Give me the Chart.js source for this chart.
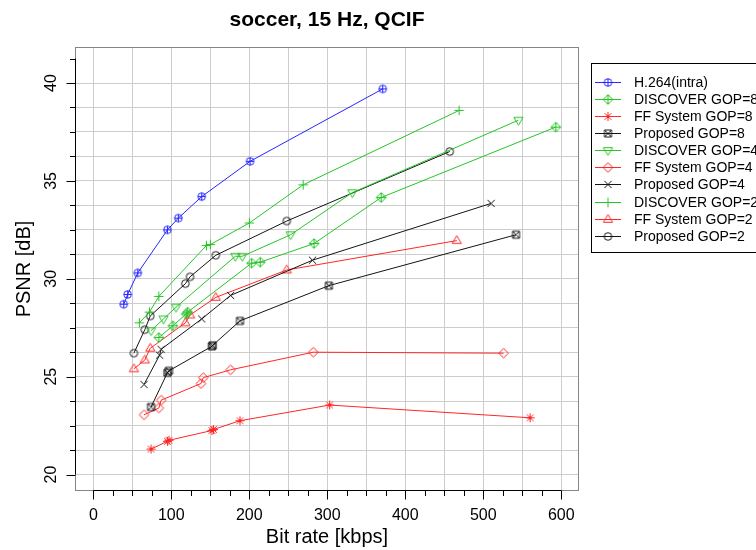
<!DOCTYPE html>
<html><head><meta charset="utf-8">
<script src="https://cdn.jsdelivr.net/npm/chart.js@4.4.0/dist/chart.umd.min.js"></script>
<style>html,body{margin:0;padding:0;background:#fff;overflow:hidden}canvas{display:block}</style>
</head><body>
<canvas id="c" width="756" height="550" style="width:756px;height:550px"></canvas>
<script>
// ---------- data ----------
const h264Rate  = [39, 44, 57, 95, 109, 139, 201, 371];
const h264Psnr  = [28.7, 29.2, 30.3, 32.5, 33.1, 34.2, 36.0, 39.7];

const disc8Rate = [84, 102, 119, 121, 203, 214, 283, 369, 593];
const disc8Psnr = [27.0, 27.6, 28.2, 28.3, 30.8, 30.85, 31.8, 34.15, 37.75];

const ff8Rate   = [74, 95, 97, 152, 154, 188, 303, 560];
const ff8Psnr   = [21.3, 21.7, 21.75, 22.25, 22.3, 22.75, 23.55, 22.9];

const prop8Rate = [74, 95, 97, 152, 153, 188, 302, 542];
const prop8Psnr = [23.45, 25.2, 25.3, 26.55, 26.6, 27.85, 29.65, 32.25];

const disc4Rate = [74, 90, 106, 182, 191, 253, 332, 545];
const disc4Psnr = [27.35, 27.95, 28.55, 31.15, 31.15, 32.25, 34.4, 38.1];

const ff4Rate   = [65, 84, 87, 138, 141, 176, 282, 526];
const ff4Psnr   = [23.05, 23.4, 23.8, 24.65, 24.95, 25.35, 26.25, 26.2];

const prop4Rate = [65, 85, 87, 139, 176, 281, 510];
const prop4Psnr = [24.6, 26.1, 26.4, 27.95, 29.15, 30.95, 33.85];

const disc2Rate = [59, 72, 84, 145, 150, 200, 269, 469];
const disc2Psnr = [27.75, 28.3, 29.1, 31.7, 31.75, 32.85, 34.8, 38.6];

const ff2Rate   = [52, 66, 73, 118, 124, 157, 248, 466];
const ff2Psnr   = [25.4, 25.85, 26.45, 27.75, 28.15, 29.05, 30.45, 31.95];

const prop2Rate = [52, 66, 73, 118, 124, 157, 248, 457];
const prop2Psnr = [26.2, 27.4, 28.1, 29.75, 30.1, 31.2, 32.95, 36.5];

const seriesLabels = ['H.264(intra)', 'DISCOVER GOP=8', 'FF System GOP=8', 'Proposed GOP=8',
  'DISCOVER GOP=4', 'FF System GOP=4', 'Proposed GOP=4', 'DISCOVER GOP=2', 'FF System GOP=2', 'Proposed GOP=2'];
const seriesRates = [h264Rate, disc8Rate, ff8Rate, prop8Rate, disc4Rate, ff4Rate, prop4Rate, disc2Rate, ff2Rate, prop2Rate];
const seriesPsnrs = [h264Psnr, disc8Psnr, ff8Psnr, prop8Psnr, disc4Psnr, ff4Psnr, prop4Psnr, disc2Psnr, ff2Psnr, prop2Psnr];

const xTickLabels = [0, 100, 200, 300, 400, 500, 600];
const yTickLabels = [20, 25, 30, 35, 40];
const chartTitle = 'soccer, 15 Hz, QCIF';
const xTitle = 'Bit rate [kbps]';
const yTitle = 'PSNR [dB]';

// ---------- styles ----------
const BLUE = '#2626ff', GREEN = '#26c426', RED = '#ff2626', BLACK = '#141414';
const seriesColors = [BLUE, GREEN, RED, BLACK, GREEN, RED, BLACK, GREEN, RED, BLACK];
const seriesMarkers = ['circlePlus', 'diamondPlus', 'star', 'squareX', 'triDown', 'diamond', 'x', 'plus', 'tri', 'circle'];
const FONT = "'Liberation Sans', Arial, Helvetica, sans-serif";

function makeMarker(kind, color) {
  const s = 15, c = 7.5;
  const cv = document.createElement('canvas'); cv.width = s; cv.height = s;
  const g = cv.getContext('2d');
  g.strokeStyle = color; g.lineWidth = 1;
  g.beginPath();
  const line = (x1, y1, x2, y2) => { g.moveTo(x1, y1); g.lineTo(x2, y2); };
  switch (kind) {
    case 'circlePlus': g.arc(c, c, 3.8, 0, 2 * Math.PI); line(c - 3.8, c, c + 3.8, c); line(c, c - 3.8, c, c + 3.8); break;
    case 'diamondPlus': g.moveTo(c, c - 4.8); g.lineTo(c + 4.8, c); g.lineTo(c, c + 4.8); g.lineTo(c - 4.8, c); g.closePath();
      line(c - 4.8, c, c + 4.8, c); line(c, c - 4.8, c, c + 4.8); break;
    case 'star': line(c - 4.5, c, c + 4.5, c); line(c, c - 4.5, c, c + 4.5);
      line(c - 3.3, c - 3.3, c + 3.3, c + 3.3); line(c - 3.3, c + 3.3, c + 3.3, c - 3.3); break;
    case 'squareX': g.rect(c - 3.5, c - 3.5, 7, 7); line(c - 3.5, c - 3.5, c + 3.5, c + 3.5); line(c - 3.5, c + 3.5, c + 3.5, c - 3.5); break;
    case 'triDown': g.moveTo(c - 4.6, c - 2.8); g.lineTo(c + 4.6, c - 2.8); g.lineTo(c, c + 4.9); g.closePath(); break;
    case 'tri': g.moveTo(c - 4.6, c + 2.8); g.lineTo(c + 4.6, c + 2.8); g.lineTo(c, c - 4.9); g.closePath(); break;
    case 'diamond': g.moveTo(c, c - 4.8); g.lineTo(c + 4.8, c); g.lineTo(c, c + 4.8); g.lineTo(c - 4.8, c); g.closePath(); break;
    case 'x': line(c - 3.6, c - 3.6, c + 3.6, c + 3.6); line(c - 3.6, c + 3.6, c + 3.6, c - 3.6); break;
    case 'plus': line(c - 4.8, c, c + 4.8, c); line(c, c - 4.8, c, c + 4.8); break;
    case 'circle': g.arc(c, c, 3.8, 0, 2 * Math.PI); break;
  }
  g.stroke();
  return cv;
}
const markerImages = seriesMarkers.map((m, i) => makeMarker(m, seriesColors[i]));

const datasets = seriesLabels.map((lab, i) => ({
  label: lab,
  data: seriesRates[i].map((r, j) => ({ x: r, y: seriesPsnrs[i][j] })),
  showLine: true,
  borderColor: seriesColors[i],
  backgroundColor: seriesColors[i],
  borderWidth: 1,
  tension: 0,
  fill: false,
  pointStyle: markerImages[i],
  pointRadius: 4,
  pointHoverRadius: 4
}));

const X_MINOR = 25, X_GRID = 50, Y_MINOR = 1.25;

const framePlugin = {
  id: 'frame',
  afterDraw(chart) {
    const { ctx, chartArea: a, scales: { x, y } } = chart;
    ctx.save();
    // plot box
    ctx.strokeStyle = '#858585'; ctx.lineWidth = 1;
    ctx.strokeRect(Math.round(a.left) + 0.5, Math.round(a.top) + 0.5,
      Math.round(a.right - a.left) - 1, Math.round(a.bottom - a.top) - 1);
    // axes with ticks
    ctx.strokeStyle = '#000';
    const by = Math.round(a.bottom) - 0.5, lx = Math.round(a.left) + 0.5;
    ctx.beginPath();
    const xt = x.ticks.map(t => t.value);
    ctx.moveTo(x.getPixelForValue(xt[0]), by); ctx.lineTo(x.getPixelForValue(xt[xt.length - 1]), by);
    xt.forEach(v => {
      const px = Math.round(x.getPixelForValue(v)) + 0.5;
      const len = (v % 100 === 0) ? 9 : 5.5;
      ctx.moveTo(px, by); ctx.lineTo(px, by + len);
    });
    const yt = y.ticks.map(t => t.value);
    ctx.moveTo(lx, y.getPixelForValue(yt[0])); ctx.lineTo(lx, y.getPixelForValue(yt[yt.length - 1]));
    yt.forEach(v => {
      const py = Math.round(y.getPixelForValue(v)) + 0.5;
      const len = (v % 5 === 0) ? 9 : 5.5;
      ctx.moveTo(lx, py); ctx.lineTo(lx - len, py);
    });
    ctx.stroke();
    // rotated y tick labels
    ctx.fillStyle = '#000';
    ctx.font = '16px ' + FONT;
    ctx.textAlign = 'center'; ctx.textBaseline = 'middle';
    yTickLabels.forEach(v => {
      ctx.save();
      ctx.translate(52, y.getPixelForValue(v));
      ctx.rotate(-Math.PI / 2);
      ctx.fillText(String(v), 0, 0);
      ctx.restore();
    });
    // legend
    const lx0 = 591, ly0 = 63, rowH = 17.13, firstY = 81.7;
    ctx.strokeStyle = '#000'; ctx.lineWidth = 1;
    ctx.strokeRect(lx0 + 0.5, ly0 + 0.5, 300, 189);
    ctx.font = '14px ' + FONT;
    ctx.textAlign = 'left'; ctx.textBaseline = 'middle';
    chart.data.datasets.forEach((ds, i) => {
      const cy = Math.round(firstY + i * rowH) + 0.5;
      ctx.strokeStyle = ds.borderColor;
      ctx.beginPath(); ctx.moveTo(595, cy); ctx.lineTo(621, cy); ctx.stroke();
      ctx.drawImage(markerImages[i], 608 - 7.5, cy - 7.5);
      ctx.fillStyle = '#000';
      ctx.fillText(ds.label, 634, cy + 0.5);
    });
    ctx.restore();
  }
};

new Chart(document.getElementById('c'), {
  type: 'scatter',
  data: { datasets },
  options: {
    responsive: false,
    devicePixelRatio: 1,
    animation: false,
    events: [],
    layout: { padding: { left: 0, top: 0, right: 177, bottom: 0 } },
    plugins: {
      legend: { display: false },
      tooltip: { enabled: false },
      title: {
        display: true, text: chartTitle, fullSize: false, color: '#000',
        font: { family: FONT, size: 21, weight: 'bold', lineHeight: 1.2 },
        padding: { top: 8, bottom: 13.8 }
      }
    },
    scales: {
      x: {
        type: 'linear', min: -23.5, max: 622.7,
        afterBuildTicks: (s) => {
          const t = [];
          for (let v = xTickLabels[0]; v <= xTickLabels[xTickLabels.length - 1]; v += X_MINOR) t.push({ value: v });
          s.ticks = t;
        },
        afterFit: (s) => { s.height = 59; },
        border: { display: false },
        grid: {
          drawTicks: false,
          color: (c) => (c.tick && c.tick.value % X_GRID === 0) ? '#cdcdcd' : 'rgba(0,0,0,0)',
          lineWidth: 1
        },
        ticks: {
          autoSkip: false, maxRotation: 0, minRotation: 0, padding: 15, color: '#000',
          font: { family: FONT, size: 16 },
          callback: (v) => xTickLabels.includes(v) ? String(v) : ''
        },
        title: {
          display: true, text: xTitle, color: '#000',
          font: { family: FONT, size: 20, lineHeight: 1.2 },
          padding: { top: 0, bottom: 1 }
        }
      },
      y: {
        type: 'linear', min: 19.16, max: 41.84,
        afterBuildTicks: (s) => {
          const t = [];
          for (let v = yTickLabels[0]; v <= 41.25; v += Y_MINOR) t.push({ value: v });
          s.ticks = t;
        },
        afterFit: (s) => { s.width = 75; },
        border: { display: false },
        grid: {
          drawTicks: false,
          color: (c) => (c.tick && c.tick.value <= yTickLabels[yTickLabels.length - 1]) ? '#cdcdcd' : 'rgba(0,0,0,0)',
          lineWidth: 1
        },
        ticks: { display: false },
        title: {
          display: true, text: yTitle, color: '#000',
          font: { family: FONT, size: 20, lineHeight: 1.2 },
          padding: { top: 12, bottom: 0 }
        }
      }
    }
  },
  plugins: [framePlugin]
});
</script>
</body></html>
